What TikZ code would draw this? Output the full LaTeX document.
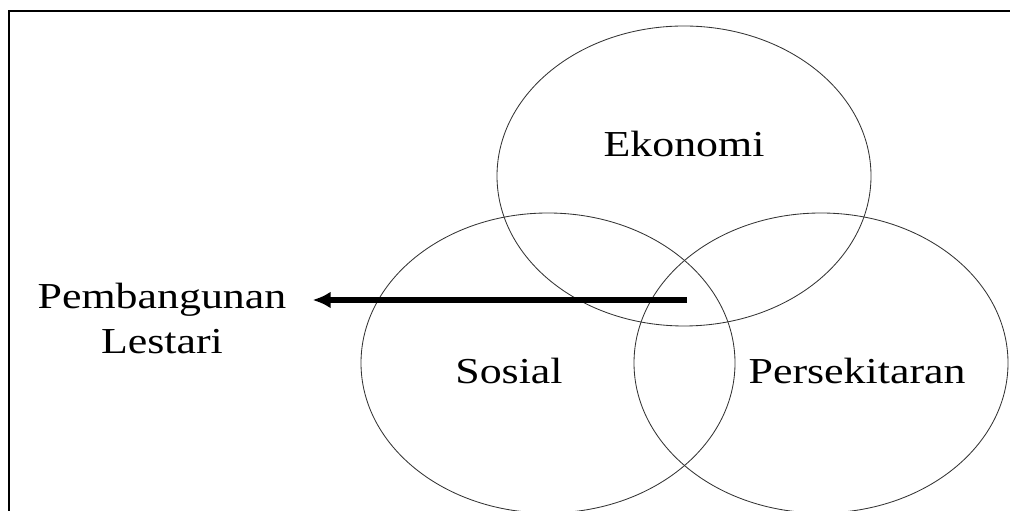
\documentclass[tikz,border=0pt]{standalone}
\usepackage{fontspec}
\setmainfont{Liberation Serif}
\usepackage {tikz}
\usetikzlibrary {positioning}
\usetikzlibrary{calc}
\usetikzlibrary{arrows.meta}
\tikzset{
	ring/.style = {draw=black!80, line width=0.6pt},
    word/.style = {font=\fontsize{26}{32}\selectfont, inner sep=0pt, xscale=1.2},
    pointer/.style = {-{Latex[length=0.45cm,width=0.42cm]}, line width=3.6pt},
    frame/.style = {line width=1.2pt}}
\begin{document}
\begin{tikzpicture}[x=0.025cm, y=0.025cm, on grid]
    \useasboundingbox (0,0) rectangle (1010,511);
    \draw[frame] (9,0) -- (9,500) -- (1010,500);
    \draw[ring] (684,335) ellipse [x radius=187, y radius=150];
    \draw[ring] (548,148) ellipse [x radius=187, y radius=150];
    \draw[ring] (821,148) ellipse [x radius=187, y radius=150];
    \node[word, anchor=base] (eko) at (684,354) {Ekonomi};
    \node[word, anchor=base] (sos) at (509,127) {Sosial};
    \node[word, base right = 8.7cm of sos] (per) {Persekitaran};
    \node[word, align=center, anchor=north] (lestari) at (162,228.5) {Pembangunan\\Lestari};
    \coordinate (src) at (687,211);
    \draw[pointer] (src) -- ($(src -| lestari.east)+(26,0)$);
    \end{tikzpicture}
\end{document}
